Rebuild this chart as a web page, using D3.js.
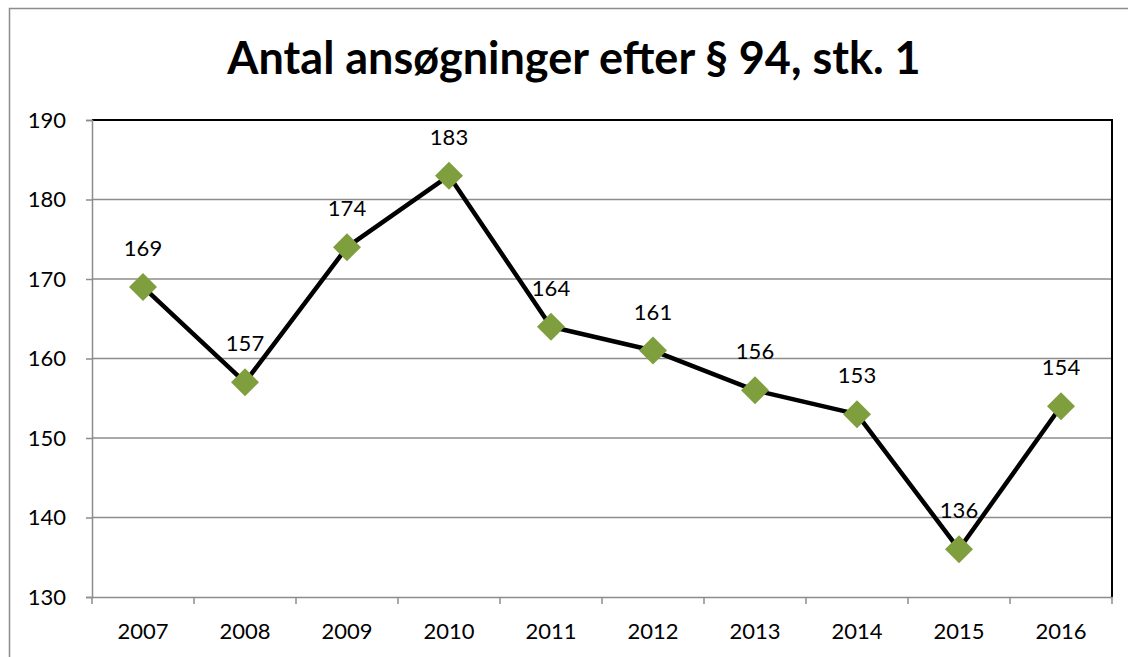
<!DOCTYPE html>
<html>
<head>
<meta charset="utf-8">
<script src="https://cdn.jsdelivr.net/npm/d3@7"></script>
<style>
  body { margin: 0; background: #fff; }
  svg { display: block; font-family: Lato, "Open Sans", sans-serif; }
</style>
</head>
<body>
<svg width="1128" height="657"></svg>
<script>
'use strict';

const years = ["2007", "2008", "2009", "2010", "2011", "2012", "2013", "2014", "2015", "2016"];
const counts = [169, 157, 174, 183, 164, 161, 156, 153, 136, 154];
const yTicks = [130, 140, 150, 160, 170, 180, 190];
const title = "Antal ansøgninger efter § 94, stk. 1";

const svg = d3.select("svg");
const plot = {left: 92, top: 120, right: 1112, bottom: 597};

// chart frame (runs off the right and bottom edge)
svg.append("rect")
  .attr("x", 9.5).attr("y", 8.5)
  .attr("width", 1140).attr("height", 670)
  .attr("fill", "#fff")
  .attr("stroke", "#8c8c8c")
  .attr("stroke-width", 1.5);

svg.append("text")
  .attr("x", 574).attr("y", 74)
  .attr("text-anchor", "middle")
  .attr("font-size", 45)
  .attr("font-weight", "bold")
  .attr("fill", "#000")
  .text(title);

const x = d3.scaleBand()
  .domain(years)
  .range([plot.left, plot.right]);

const y = d3.scaleLinear()
  .domain([130, 190])
  .range([plot.bottom, plot.top]);

// gridlines
svg.append("g")
  .selectAll("line")
  .data(yTicks.slice(1, -1))
  .join("line")
  .attr("x1", plot.left).attr("x2", plot.right)
  .attr("y1", d => y(d)).attr("y2", d => y(d))
  .attr("stroke", "#8c8c8c")
  .attr("stroke-width", 1.5);

// top and right frame of plot area
svg.append("path")
  .attr("d", `M${plot.left},${plot.top}H${plot.right}V${plot.bottom}`)
  .attr("fill", "none")
  .attr("stroke", "#000")
  .attr("stroke-width", 2);

// y axis
const yAxis = svg.append("g")
  .attr("transform", `translate(${plot.left},0)`)
  .call(d3.axisLeft(y).tickValues(yTicks).tickSize(6).tickPadding(20));
yAxis.select(".domain").attr("stroke", "#8c8c8c").attr("stroke-width", 1.5);
yAxis.selectAll(".tick line").attr("stroke", "#8c8c8c").attr("stroke-width", 1.5);
yAxis.selectAll(".tick text")
  .attr("font-size", 22)
  .attr("font-family", "Lato, sans-serif")
  .attr("fill", "#000");

// x axis, ticks between categories
const xAxis = svg.append("g")
  .attr("transform", `translate(0,${plot.bottom})`)
  .call(d3.axisBottom(x).tickSize(0).tickPadding(26));
xAxis.select(".domain").attr("stroke", "#8c8c8c").attr("stroke-width", 1.5);
xAxis.selectAll(".tick text")
  .attr("font-size", 22)
  .attr("font-family", "Lato, sans-serif")
  .attr("fill", "#000");
xAxis.append("g")
  .selectAll("line")
  .data(years.concat(["end"]))
  .join("line")
  .attr("x1", (d, i) => plot.left + i * x.step())
  .attr("x2", (d, i) => plot.left + i * x.step())
  .attr("y1", 0).attr("y2", 7)
  .attr("stroke", "#8c8c8c")
  .attr("stroke-width", 1.5);

const cx = d => x(d) + x.bandwidth() / 2;

const line = d3.line()
  .x((d, i) => cx(years[i]))
  .y(d => y(d));

svg.append("path")
  .datum(counts)
  .attr("d", line)
  .attr("fill", "none")
  .attr("stroke", "#000")
  .attr("stroke-width", 4.5)
  .attr("stroke-linejoin", "round");

const diamond = 14;
svg.append("g")
  .selectAll("path")
  .data(counts)
  .join("path")
  .attr("transform", (d, i) => `translate(${cx(years[i])},${y(d)})`)
  .attr("d", `M0,${-diamond}L${diamond},0L0,${diamond}L${-diamond},0Z`)
  .attr("fill", "#7f9f3f");

svg.append("g")
  .selectAll("text")
  .data(counts)
  .join("text")
  .attr("x", (d, i) => cx(years[i]))
  .attr("y", d => y(d) - 31)
  .attr("text-anchor", "middle")
  .attr("font-size", 22)
  .attr("fill", "#000")
  .text(d => d);
</script>
</body>
</html>
